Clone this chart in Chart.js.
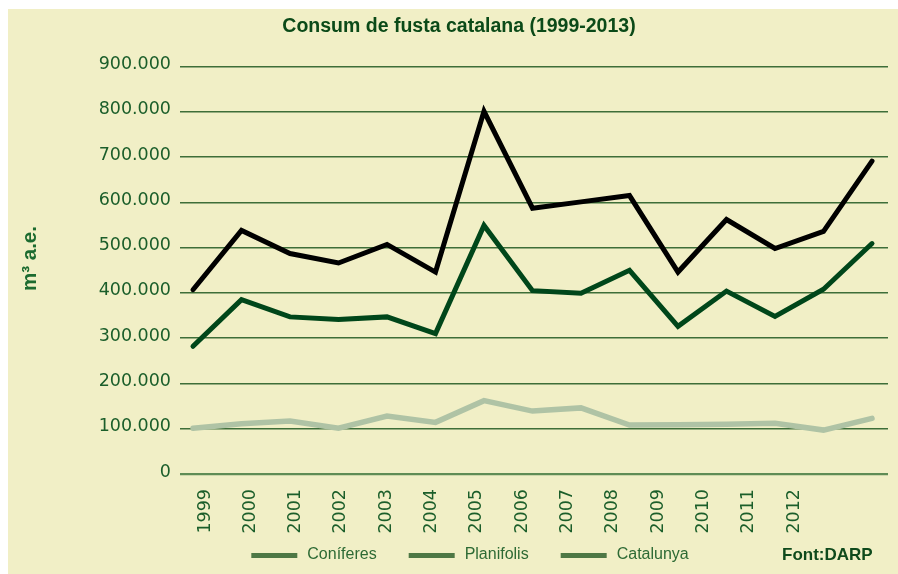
<!DOCTYPE html>
<html>
<head>
<meta charset="utf-8">
<script src="https://cdn.jsdelivr.net/npm/chart.js@4.4.1/dist/chart.umd.min.js"></script>
<style>
  html, body { margin: 0; padding: 0; background: #ffffff; }
  #wrap { width: 898px; height: 574px; position: relative; }
</style>
</head>
<body>
<div id="wrap"><canvas id="c" width="898" height="574"></canvas></div>
<script>
// ---- data ----
const years = [1999, 2000, 2001, 2002, 2003, 2004, 2005, 2006, 2007, 2008, 2009, 2010, 2011, 2012, 2013];
const catalunya  = [407000, 538000, 487000, 466000, 507000, 446000, 801000, 587000, 601000, 615000, 446000, 562000, 498000, 536000, 691000];
const coniferes  = [282000, 385000, 347000, 341000, 347000, 310000, 549000, 405000, 399000, 450000, 326000, 404000, 348000, 408000, 509000];
const planifolis = [101000, 111000, 117000, 101000, 128000, 114000, 162000, 139000, 146000, 108000, 109000, 110000, 112000, 97000, 123000];
const xTickYears = [1999, 2000, 2001, 2002, 2003, 2004, 2005, 2006, 2007, 2008, 2009, 2010, 2011, 2012];
const yTickValues = [0, 100000, 200000, 300000, 400000, 500000, 600000, 700000, 800000, 900000];
const yTickLabels = ['0', '100.000', '200.000', '300.000', '400.000', '500.000', '600.000', '700.000', '800.000', '900.000'];
const seriesNames = ['Coníferes', 'Planifolis', 'Catalunya'];
const chartTitle = 'Consum de fusta catalana (1999-2013)';
const yTitle = 'm³ a.e.';
const sourceText = 'Font:DARP';

// ---- styling ----
const CREAM = '#F1EFC6';
const SANS = "'Liberation Sans', Arial, Helvetica, sans-serif";
const TICKFONT = "'DejaVu Sans', Verdana, sans-serif";
const SWATCH = '#4E7845';
const LEGEND_TEXT = '#2D6A34';

const pts = vals => years.map((y, i) => ({ x: y, y: vals[i] }));

// legend swatch image: blank lead-in + bar
const sw = document.createElement('canvas');
sw.width = 70; sw.height = 5;
const swc = sw.getContext('2d');
swc.fillStyle = SWATCH;
swc.fillRect(22, 0, 46, 5);

const bgPlugin = {
  id: 'bg',
  beforeDraw(chart) {
    const ctx = chart.ctx;
    ctx.save();
    ctx.fillStyle = '#ffffff';
    ctx.fillRect(0, 0, chart.width, chart.height);
    ctx.fillStyle = CREAM;
    ctx.fillRect(8, 9, chart.width - 8, chart.height - 9);
    ctx.restore();
  }
};
const textPlugin = {
  id: 'extraText',
  afterDraw(chart) {
    const ctx = chart.ctx;
    ctx.save();
    ctx.font = "bold 17px " + SANS;
    ctx.fillStyle = '#0F4A1C';
    ctx.textAlign = 'left';
    ctx.textBaseline = 'middle';
    ctx.fillText(sourceText, 782, 555);
    ctx.restore();
    // y axis title
    ctx.save();
    ctx.translate(30, 258.5);
    ctx.rotate(-Math.PI / 2);
    ctx.font = "bold 20.5px " + SANS;
    ctx.fillStyle = '#1C6B30';
    ctx.textAlign = 'center';
    ctx.textBaseline = 'middle';
    ctx.fillText(yTitle, 0, 0);
    ctx.restore();
  }
};

new Chart(document.getElementById('c'), {
  type: 'line',
  data: {
    datasets: [
      { label: seriesNames[0], data: pts(coniferes), borderColor: '#00461A', borderWidth: 5, pointRadius: 0, tension: 0, borderJoinStyle: 'miter', borderCapStyle: 'round', order: 2 },
      { label: seriesNames[1], data: pts(planifolis), borderColor: '#AFC3A5', borderWidth: 5.5, pointRadius: 0, tension: 0, borderJoinStyle: 'miter', borderCapStyle: 'round', order: 3 },
      { label: seriesNames[2], data: pts(catalunya), borderColor: '#000000', borderWidth: 5, pointRadius: 0, tension: 0, borderJoinStyle: 'miter', borderCapStyle: 'round', order: 1 }
    ]
  },
  options: {
    responsive: false,
    animation: false,
    devicePixelRatio: 1,
    layout: { padding: { left: 30, right: 10, top: 0, bottom: 1 } },
    plugins: {
      title: {
        display: true,
        text: chartTitle,
        color: '#0B4A18',
        font: { family: SANS, size: 19.5, weight: 'bold', lineHeight: 1.2 },
        padding: { top: 15, bottom: 28.1 }
      },
      legend: {
        display: true,
        position: 'bottom',
        labels: {
          usePointStyle: true,
          pointStyleWidth: 70,
          boxHeight: 5,
          padding: 10,
          color: LEGEND_TEXT,
          font: { family: SANS, size: 16 },
          generateLabels: () => seriesNames.map((n, i) => ({
            text: n, pointStyle: sw, fillStyle: SWATCH, strokeStyle: SWATCH, fontColor: LEGEND_TEXT, lineWidth: 0, hidden: false, datasetIndex: i
          }))
        },
        onClick: () => {}
      },
      tooltip: { enabled: false }
    },
    scales: {
      x: {
        type: 'linear',
        min: 1998.732,
        max: 2013.33,
        display: false
      },
      xl: {
        type: 'linear',
        position: 'bottom',
        min: 1998.448,
        max: 2014.075,
        grid: { display: false, drawTicks: false, tickLength: 0 },
        border: { display: false },
        afterBuildTicks: s => { s.ticks = xTickYears.map(v => ({ value: v })); },
        afterFit: s => { s.height = 63; },
        ticks: {
          autoSkip: false,
          minRotation: 90,
          maxRotation: 90,
          padding: 15,
          color: '#1B5E2A',
          font: { family: TICKFONT, size: 17.5 },
          callback: v => String(v)
        }
      },
      y: {
        min: 0,
        max: 900000,
        afterBuildTicks: s => { s.ticks = yTickValues.map(v => ({ value: v })); },
        afterFit: s => { s.width = 150; },
        border: { display: false },
        grid: {
          color: ctx => (ctx.tick && ctx.tick.value === 0) ? '#5F8C55' : '#3E6E38',
          lineWidth: ctx => (ctx.tick && ctx.tick.value === 0) ? 2.2 : 1.5,
          drawTicks: false
        },
        ticks: {
          padding: 9,
          labelOffset: -2,
          color: '#1B5E2A',
          font: { family: TICKFONT, size: 17.5 },
          callback: v => yTickLabels[yTickValues.indexOf(v)]
        }
      }
    }
  },
  plugins: [bgPlugin, textPlugin]
});
</script>
</body>
</html>
